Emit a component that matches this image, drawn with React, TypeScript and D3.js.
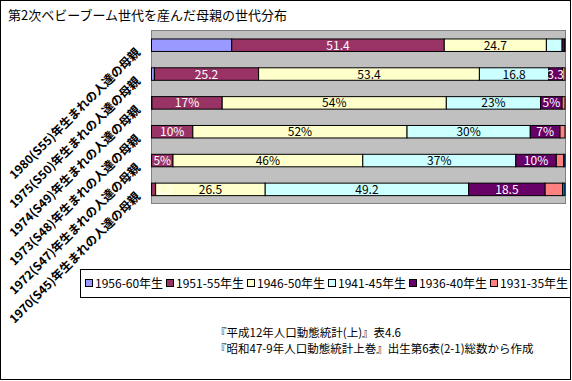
import React from "react";
import * as d3 from "d3";

const title = "第2次ベビーブーム世代を産んだ母親の世代分布";
const rows = [
  "1980(S55)年生まれの人達の母親",
  "1975(S50)年生まれの人達の母親",
  "1974(S49)年生まれの人達の母親",
  "1973(S48)年生まれの人達の母親",
  "1972(S47)年生まれの人達の母親",
  "1970(S45)年生まれの人達の母親",
];
const seriesNames = ["1956-60年生", "1951-55年生", "1946-50年生", "1941-45年生", "1936-40年生", "1931-35年生", "1926-30年生"];
const legendCount = 6;
const colors = ["#9999FF", "#993366", "#FFFFCC", "#CCFFFF", "#660066", "#FF8080", "#0066CC"];
const textColors = ["#000", "#fff", "#000", "#000", "#fff", "#000", "#fff"];

// values per row, in series order
const s1956 = [19.4, 0.7, 0.1, 0, 0, 0];
const s1951 = [51.4, 25.2, 17.0, 10.0, 5.2, 1.0];
const s1946 = [24.7, 53.4, 54.2, 51.8, 45.9, 26.5];
const s1941 = [3.8, 16.8, 22.8, 29.8, 37.0, 49.2];
const s1936 = [0.6, 3.3, 5.2, 7.2, 9.8, 18.5];
const s1931 = [0.1, 0.6, 0.7, 1.2, 1.8, 4.2];
const s1926 = [0, 0, 0, 0, 0.3, 0.6];
const seriesValues = [s1956, s1951, s1946, s1941, s1936, s1931, s1926];

// data labels shown (empty = none)
const lb1956 = ["", "", "", "", "", ""];
const lb1951 = ["51.4", "25.2", "17%", "10%", "5%", "1.0"];
const lb1946 = ["24.7", "53.4", "54%", "52%", "46%", "26.5"];
const lb1941 = ["", "16.8", "23%", "30%", "37%", "49.2"];
const lb1936 = ["", "3.3", "5%", "7%", "10%", "18.5"];
const lb1931 = ["", "", "", "", "", ""];
const lb1926 = ["", "", "", "", "", ""];
const seriesLabels = [lb1956, lb1951, lb1946, lb1941, lb1936, lb1931, lb1926];

const sourceLines = [
  "『平成12年人口動態統計(上)』表4.6",
  "『昭和47-9年人口動態統計上巻』出生第6表(2-1)総数から作成",
];

const W = 572;
const H = 381;
const FONT = "'Noto Sans CJK JP', 'Noto Sans', sans-serif";

export default function App() {
  const plot = { x0: 151, x1: 565, y0: 30, y1: 203 };
  const x = d3.scaleLinear().domain([0, 100]).range([plot.x0 + 0.5, plot.x1]);
  const y = d3.scaleBand<string>().domain(rows).range([plot.y0, plot.y1]).padding(0);
  const barH = 12.5;

  const stacked = rows.map((r, i) => {
    let acc = 0;
    return seriesValues.map((sv, k) => {
      const v = sv[i];
      const a = acc;
      acc += v;
      return { k, a, b: acc, v, label: seriesLabels[k][i] };
    });
  });

  return (
    <svg width={W} height={H} style={{ position: "absolute", left: 0, top: 0, fontFamily: FONT }}>
      <rect x={0.5} y={0.5} width={570} height={379} fill="#fff" stroke="#000" />
      <text x={8} y={20} fontSize={13} fill="#000">{title}</text>

      <rect x={plot.x0 + 0.5} y={plot.y0 + 0.5} width={plot.x1 - plot.x0} height={plot.y1 - plot.y0} fill="#C0C0C0" stroke="#808080" />

      {rows.map((r, i) => {
        const by = (y(r) as number) + (y.bandwidth() - barH) / 2 + 0.8;
        return (
          <g key={r}>
            {stacked[i].map((s) =>
              s.v > 0 ? (
                <rect key={s.k} x={x(s.a)} y={by} width={x(s.b) - x(s.a)} height={barH} fill={colors[s.k]} stroke="#000" strokeWidth={1} />
              ) : null
            )}
            {stacked[i].map((s) => {
              if (!s.label) return null;
              const tw = s.label.length * 6.5;
              let cx = (x(s.a) + x(s.b)) / 2;
              cx = Math.max(cx, plot.x0 + tw / 2 + 4);
              return (
                <text key={"l" + s.k} x={cx} y={by + barH / 2 + 4.5} fontSize={12} textAnchor="middle" fill={textColors[s.k]}>
                  {s.label}
                </text>
              );
            })}
            <text
              transform={`translate(${141},${by + barH / 2 + 8}) rotate(-45)`}
              textAnchor="end"
              fontSize={12}
              fontWeight="bold"
              fill="#000"
            >
              {r}
            </text>
          </g>
        );
      })}

      <rect x={80.5} y={269.5} width={490} height={28} fill="#fff" stroke="#000" />
      {seriesNames.slice(0, legendCount).map((n, k) => {
        const lx = 85 + k * 81;
        return (
          <g key={n}>
            <rect x={lx + 0.5} y={279.5} width={7} height={7} fill={colors[k]} stroke="#000" />
            <text x={lx + 10} y={288} fontSize={12} fill="#000">{n}</text>
          </g>
        );
      })}

      {sourceLines.map((t, i) => (
        <text key={i} x={215} y={337 + i * 16} fontSize={11.5} fill="#000">{t}</text>
      ))}
    </svg>
  );
}
